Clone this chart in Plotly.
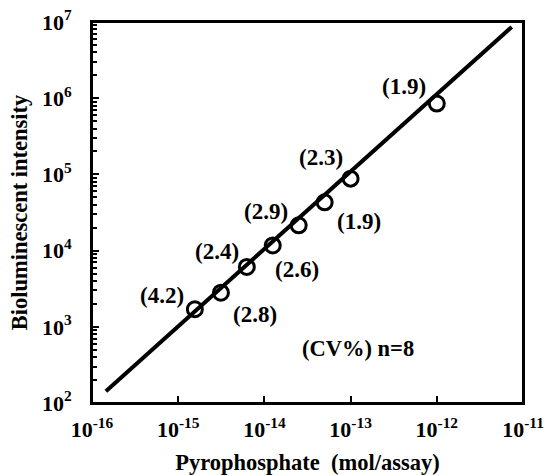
import math
import plotly.graph_objects as go

# Data
pyro_mol = [1.56e-15, 3.13e-15, 6.25e-15, 1.25e-14, 2.5e-14, 5e-14, 1e-13, 1e-12]
intensity = [1700, 2800, 6100, 11700, 21500, 43000, 88000, 850000]
cv_labels = ["(4.2)", "(2.8)", "(2.4)", "(2.6)", "(2.9)", "(1.9)", "(2.3)", "(1.9)"]
# label offsets (pixels) relative to points
label_dx = [-33, 34, -30, 24, -33, 34, -30, -33]
label_dy = [14, -22, 15, -24, 14, -19, 21, 17]

fit_x = [1.45e-16, 7.4e-12]
fit_y = [143, 8.6e6]

x_tickvals = [1e-16, 1e-15, 1e-14, 1e-13, 1e-12, 1e-11]
x_ticktext = ["10<sup>-16</sup>", "10<sup>-15</sup>", "10<sup>-14</sup>",
              "10<sup>-13</sup>", "10<sup>-12</sup>", "10<sup>-11</sup>"]
y_tickvals = [1e2, 1e3, 1e4, 1e5, 1e6, 1e7]
y_ticktext = ["10<sup>2</sup>", "10<sup>3</sup>", "10<sup>4</sup>",
              "10<sup>5</sup>", "10<sup>6</sup>", "10<sup>7</sup>"]
y_minor = [m * 10 ** e for e in range(2, 7) for m in range(2, 10)]

FONT = "Liberation Serif, Times New Roman, serif"

fig = go.Figure()
fig.add_trace(go.Scatter(x=fit_x, y=fit_y, mode="lines",
                         line=dict(color="black", width=4), showlegend=False,
                         hoverinfo="skip"))
fig.add_trace(go.Scatter(x=pyro_mol, y=intensity, mode="markers",
                         marker=dict(symbol="circle-open", size=15,
                                     line=dict(color="black", width=3), color="black"),
                         showlegend=False))

for x, y, t, dx, dy in zip(pyro_mol, intensity, cv_labels, label_dx, label_dy):
    fig.add_annotation(x=math.log10(x), y=math.log10(y),
                       xref="x", yref="y", text=t, showarrow=False,
                       xshift=dx, yshift=dy,
                       font=dict(family=FONT, size=23, color="black", weight="bold"))

fig.add_annotation(x=0.752, y=0.104, xref="paper", yref="paper",
                   text="(CV%) n=8", showarrow=False,
                   font=dict(family=FONT, size=22.5, color="black", weight="bold"))

# plot frame
fig.add_shape(type="rect", xref="paper", yref="paper", x0=0, x1=1, y0=0, y1=1,
              line=dict(color="black", width=2), fillcolor="rgba(0,0,0,0)", layer="above")

fig.update_layout(
    width=544, height=475,
    margin=dict(l=92, r=21, t=22, b=72),
    paper_bgcolor="white", plot_bgcolor="white",
    font=dict(family=FONT, color="black", weight="bold"),
    xaxis=dict(type="log", range=[-16, -11], tickvals=x_tickvals, ticktext=x_ticktext,
               automargin=False,
               ticks="inside", ticklen=7, tickwidth=2, tickcolor="black",
               showline=True, linecolor="black", linewidth=2, mirror=True,
               showgrid=False, zeroline=False,
               tickfont=dict(family=FONT, size=22, color="black", weight="bold"),
               ticklabelstandoff=6,
               title=dict(text="Pyrophosphate  (mol/assay)", standoff=13,
                          font=dict(family=FONT, size=22.5, color="black", weight="bold"))),
    yaxis=dict(type="log", range=[2, 7], tickvals=y_tickvals, ticktext=y_ticktext,
               automargin=False,
               ticks="inside", ticklen=7, tickwidth=2, tickcolor="black",
               minor=dict(tickvals=y_minor, ticks="inside", ticklen=5, tickwidth=1.5,
                          tickcolor="black", showgrid=False),
               showline=True, linecolor="black", linewidth=2, mirror=True,
               showgrid=False, zeroline=False,
               tickfont=dict(family=FONT, size=22, color="black", weight="bold"),
               ticklabelstandoff=14,
               title=dict(text="Bioluminescent intensity", standoff=8,
                          font=dict(family=FONT, size=22.5, color="black", weight="bold"))),
)

fig.write_html("out.html", config={"displayModeBar": False},
               post_script="document.body.style.margin='0';document.body.style.overflow='hidden';")
